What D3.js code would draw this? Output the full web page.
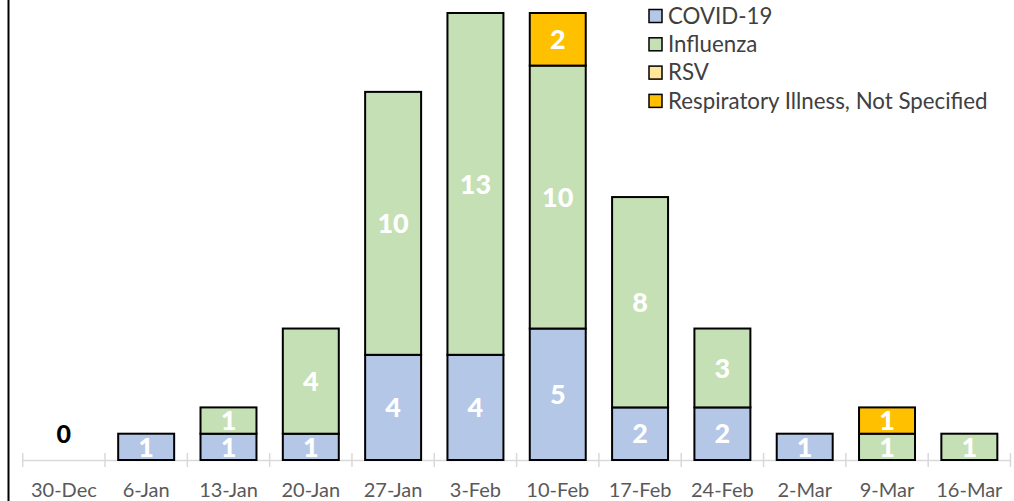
<!DOCTYPE html>
<html>
<head>
<meta charset="utf-8">
<script src="https://cdn.jsdelivr.net/npm/d3@7"></script>
<style>
  html, body { margin: 0; padding: 0; background: #fff; }
  svg { display: block; }
</style>
</head>
<body>
<div id="chart"></div>
<script>
// Weekly counts by respiratory illness
const weeks = ['30-Dec', '6-Jan', '13-Jan', '20-Jan', '27-Jan', '3-Feb', '10-Feb', '17-Feb', '24-Feb', '2-Mar', '9-Mar', '16-Mar'];
const covid = [0, 1, 1, 1, 4, 4, 5, 2, 2, 1, 0, 0];
const influenza = [0, 0, 1, 4, 10, 13, 10, 8, 3, 0, 1, 1];
const rsv = [0, 0, 0, 0, 0, 0, 0, 0, 0, 0, 0, 0];
const notSpecified = [0, 0, 0, 0, 0, 0, 2, 0, 0, 0, 1, 0];

const seriesNames = ['COVID-19', 'Influenza', 'RSV', 'Respiratory Illness, Not Specified'];
const seriesColors = ['#b4c7e7', '#c5e0b4', '#ffe699', '#ffc000'];

const font = 'Lato, "Open Sans", sans-serif';
const width = 1014, height = 501;
const svg = d3.select('#chart').append('svg')
  .attr('width', width)
  .attr('height', height);

const rows = weeks.map((w, i) => ({
  week: w,
  'COVID-19': covid[i],
  'Influenza': influenza[i],
  'RSV': rsv[i],
  'Respiratory Illness, Not Specified': notSpecified[i]
}));
const stacked = d3.stack().keys(seriesNames)(rows);

const x = d3.scaleBand().domain(weeks).range([22.7, 1010.5]).paddingInner(0.32).paddingOuter(0.16);
const y = d3.scaleLinear().domain([0, 17]).range([460, 13]);

// left frame line
svg.append('line')
  .attr('x1', 8.5).attr('x2', 8.5).attr('y1', 0).attr('y2', height)
  .attr('stroke', '#000').attr('stroke-width', 2);

// category axis: gray line with ticks between categories
const axisG = svg.append('g');
axisG.append('line')
  .attr('x1', 22.7).attr('x2', 1011).attr('y1', 460.5).attr('y2', 460.5)
  .attr('stroke', '#d9d9d9').attr('stroke-width', 1.5);
d3.range(weeks.length + 1).forEach(i => {
  const tx = 22.7 + i * (1010.5 - 22.7) / weeks.length;
  axisG.append('line')
    .attr('x1', tx).attr('x2', tx).attr('y1', 453).attr('y2', 467)
    .attr('stroke', '#d9d9d9').attr('stroke-width', 1.5);
});
axisG.selectAll('text.cat')
  .data(weeks)
  .join('text')
  .attr('class', 'cat')
  .attr('x', d => x(d) + x.bandwidth() / 2)
  .attr('y', 497)
  .attr('text-anchor', 'middle')
  .attr('font-family', font)
  .attr('font-size', 20)
  .attr('fill', '#595959')
  .text(d => d);

// stacked bars
const layers = svg.append('g').selectAll('g.layer')
  .data(stacked)
  .join('g')
  .attr('class', 'layer')
  .attr('fill', (d, i) => seriesColors[i]);

layers.selectAll('rect')
  .data(d => d.filter(s => s[1] - s[0] > 0))
  .join('rect')
  .attr('x', d => x(d.data.week))
  .attr('width', x.bandwidth())
  .attr('y', d => y(d[1]))
  .attr('height', d => y(d[0]) - y(d[1]))
  .attr('stroke', '#000')
  .attr('stroke-width', 2);

layers.selectAll('text')
  .data(d => d.filter(s => s[1] - s[0] > 0))
  .join('text')
  .attr('x', d => x(d.data.week) + x.bandwidth() / 2)
  .attr('y', d => (y(d[0]) + y(d[1])) / 2)
  .attr('dy', '0.36em')
  .attr('text-anchor', 'middle')
  .attr('font-family', font)
  .attr('font-weight', 900)
  .attr('font-size', 27)
  .attr('fill', '#fff')
  .text(d => d[1] - d[0]);

// zero total label
rows.forEach((r, i) => {
  const total = covid[i] + influenza[i] + rsv[i] + notSpecified[i];
  if (total === 0) {
    svg.append('text')
      .attr('x', x(r.week) + x.bandwidth() / 2)
      .attr('y', 434)
      .attr('dy', '0.36em')
      .attr('text-anchor', 'middle')
      .attr('font-family', font)
      .attr('font-weight', 900)
      .attr('font-size', 25)
      .attr('fill', '#000')
      .text(total);
  }
});

// legend
const legend = svg.append('g').attr('transform', 'translate(648,16)');
const items = legend.selectAll('g')
  .data(seriesNames)
  .join('g')
  .attr('transform', (d, i) => `translate(0,${i * 28.3})`);
items.append('rect')
  .attr('x', 1).attr('y', -6.5)
  .attr('width', 13).attr('height', 13)
  .attr('fill', (d, i) => seriesColors[i])
  .attr('stroke', '#000')
  .attr('stroke-width', 1.5);
items.append('text')
  .attr('x', 20)
  .attr('y', 0)
  .attr('dy', '0.35em')
  .attr('font-family', font)
  .attr('font-size', 22.3)
  .attr('fill', '#404040')
  .text(d => d);
</script>
</body>
</html>
